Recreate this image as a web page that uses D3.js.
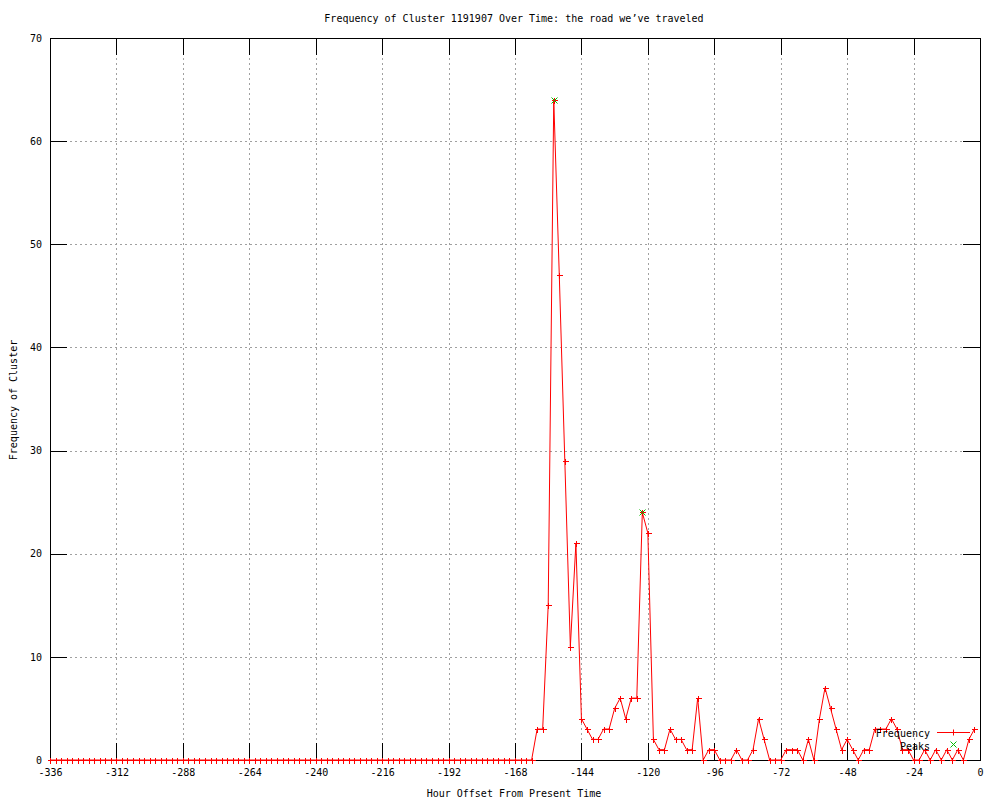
<!DOCTYPE html>
<html>
<head>
<meta charset="utf-8">
<script src="https://cdn.jsdelivr.net/npm/d3@7"></script>
<style>
  body { margin: 0; background: #fff; }
  svg text { font-family: "DejaVu Sans Mono", "Liberation Mono", monospace; font-size: 10px; fill: #000; }
</style>
</head>
<body>
<svg width="1000" height="800"></svg>
<script>
// hourly buckets, every 2 hours from -336 to -2
const hours = d3.range(-336, 0, 2);

const frequency = [
  0, 0, 0, 0, 0, 0, 0, 0, 0, 0, 0, 0, 0, 0, 0, 0, 0, 0, 0, 0, 0, 0,
  0, 0, 0, 0, 0, 0, 0, 0, 0, 0, 0, 0, 0, 0, 0, 0, 0, 0, 0, 0, 0, 0,
  0, 0, 0, 0, 0, 0, 0, 0, 0, 0, 0, 0, 0, 0, 0, 0, 0, 0, 0, 0, 0, 0,
  0, 0, 0, 0, 0, 0, 0, 0, 0, 0, 0, 0, 0, 0, 0, 0, 0, 0, 0, 0, 0, 0,
  3, 3, 15, 64, 47, 29, 11, 21, 4, 3, 2, 2, 3, 3, 5, 6, 4, 6, 6, 24,
  22, 2, 1, 1, 3, 2, 2, 1, 1, 6, 0, 1, 1, 0, 0, 0, 1, 0, 0, 1,
  4, 2, 0, 0, 0, 1, 1, 1, 0, 2, 0, 4, 7, 5, 3, 1, 2, 1, 0, 1,
  1, 3, 3, 3, 4, 3, 1, 1, 0, 0, 1, 0, 1, 0, 1, 0, 1, 0, 2, 3
];

const peakHours = [-154, -122];
const peakValues = [64, 24];

const xTicks = [-336, -312, -288, -264, -240, -216, -192, -168, -144, -120, -96, -72, -48, -24, 0];
const yTicks = [0, 10, 20, 30, 40, 50, 60, 70];

const svg = d3.select('svg');

const plotLeft = 50, plotRight = 980, plotTop = 38, plotBottom = 760;
const tick = 17;

const x = d3.scaleLinear().domain([-336, 0]).range([plotLeft, plotRight]);
const y = d3.scaleLinear().domain([0, 70]).range([plotBottom, plotTop]);

const data = hours.map((h, i) => ({ h: h, v: frequency[i] }));
const peaks = peakHours.map((h, i) => ({ h: h, v: peakValues[i] }));

// grid
const grid = svg.append('g')
  .attr('stroke', '#a0a0a0')
  .attr('stroke-width', 1)
  .attr('stroke-dasharray', '2,3')
  .attr('shape-rendering', 'crispEdges');

grid.selectAll('.gx')
  .data(xTicks.slice(1, -1))
  .enter().append('line')
  .attr('x1', d => Math.round(x(d)) + 0.5)
  .attr('x2', d => Math.round(x(d)) + 0.5)
  .attr('y1', plotTop)
  .attr('y2', plotBottom);

grid.selectAll('.gy')
  .data(yTicks.slice(1, -1))
  .enter().append('line')
  .attr('x1', plotLeft)
  .attr('x2', plotRight)
  .attr('y1', d => Math.round(y(d)) + 0.5)
  .attr('y2', d => Math.round(y(d)) + 0.5);

// axes with mirrored ticks
const axisG = svg.append('g').attr('shape-rendering', 'crispEdges');

axisG.append('g')
  .attr('transform', `translate(0, ${plotBottom})`)
  .call(d3.axisBottom(x).tickValues(xTicks).tickSizeInner(-tick).tickSizeOuter(0).tickPadding(9).tickFormat(d => String(d)));

axisG.append('g')
  .attr('transform', `translate(0, ${plotTop})`)
  .call(d3.axisTop(x).tickValues(xTicks).tickSizeInner(-tick).tickSizeOuter(0).tickFormat(''));

axisG.append('g')
  .attr('transform', `translate(${plotLeft}, 0)`)
  .call(d3.axisLeft(y).tickValues(yTicks).tickSizeInner(-tick).tickSizeOuter(0).tickPadding(8).tickFormat(d => String(d)));

axisG.append('g')
  .attr('transform', `translate(${plotRight}, 0)`)
  .call(d3.axisRight(y).tickValues(yTicks).tickSizeInner(-tick).tickSizeOuter(0).tickFormat(''));

axisG.selectAll('.domain').remove();
axisG.selectAll('.tick line').attr('stroke', '#000');
axisG.selectAll('text')
  .attr('font-family', '"DejaVu Sans Mono", monospace')
  .attr('font-size', 10)
  .attr('fill', '#000');

svg.append('rect')
  .attr('x', plotLeft + 0.5)
  .attr('y', plotTop + 0.5)
  .attr('width', plotRight - plotLeft)
  .attr('height', plotBottom - plotTop)
  .attr('fill', 'none')
  .attr('stroke', '#000')
  .attr('shape-rendering', 'crispEdges');

// frequency line
const line = d3.line()
  .x(d => x(d.h))
  .y(d => y(d.v));

svg.append('path')
  .datum(data)
  .attr('d', line)
  .attr('fill', 'none')
  .attr('stroke', '#ff0000')
  .attr('stroke-width', 1);

const plus = (cx, cy, s) => `M${cx - s},${cy}H${cx + s}M${cx},${cy - s}V${cy + s}`;
const cross = (cx, cy, s) => `M${cx - s},${cy - s}L${cx + s},${cy + s}M${cx - s},${cy + s}L${cx + s},${cy - s}`;

svg.append('g')
  .selectAll('path')
  .data(data)
  .enter().append('path')
  .attr('d', d => plus(Math.round(x(d.h)) + 0.5, Math.round(y(d.v)) + 0.5, 3))
  .attr('stroke', '#ff0000')
  .attr('fill', 'none')
  .attr('shape-rendering', 'crispEdges');

svg.append('g')
  .selectAll('path')
  .data(peaks)
  .enter().append('path')
  .attr('d', d => cross(Math.round(x(d.h)) + 0.5, Math.round(y(d.v)) + 0.5, 3))
  .attr('stroke', '#00c000')
  .attr('fill', 'none');

// legend
const lx = 930;
svg.append('text')
  .attr('x', lx).attr('y', 736.5)
  .attr('text-anchor', 'end')
  .text('Frequency');
svg.append('line')
  .attr('x1', 937).attr('x2', 970)
  .attr('y1', 732.5).attr('y2', 732.5)
  .attr('stroke', '#ff0000');
svg.append('path')
  .attr('d', plus(953.5, 732.5, 3))
  .attr('stroke', '#ff0000');

svg.append('text')
  .attr('x', lx).attr('y', 749.5)
  .attr('text-anchor', 'end')
  .text('Peaks');
svg.append('path')
  .attr('d', cross(953.5, 744.5, 3))
  .attr('stroke', '#00c000')
  .attr('fill', 'none');

// titles
svg.append('text')
  .attr('x', 514).attr('y', 22)
  .attr('text-anchor', 'middle')
  .text('Frequency of Cluster 1191907 Over Time: the road we\u2019ve traveled');

svg.append('text')
  .attr('x', 514).attr('y', 797)
  .attr('text-anchor', 'middle')
  .text('Hour Offset From Present Time');

svg.append('text')
  .attr('transform', 'translate(17, 400) rotate(-90)')
  .attr('text-anchor', 'middle')
  .text('Frequency of Cluster');
</script>
</body>
</html>
